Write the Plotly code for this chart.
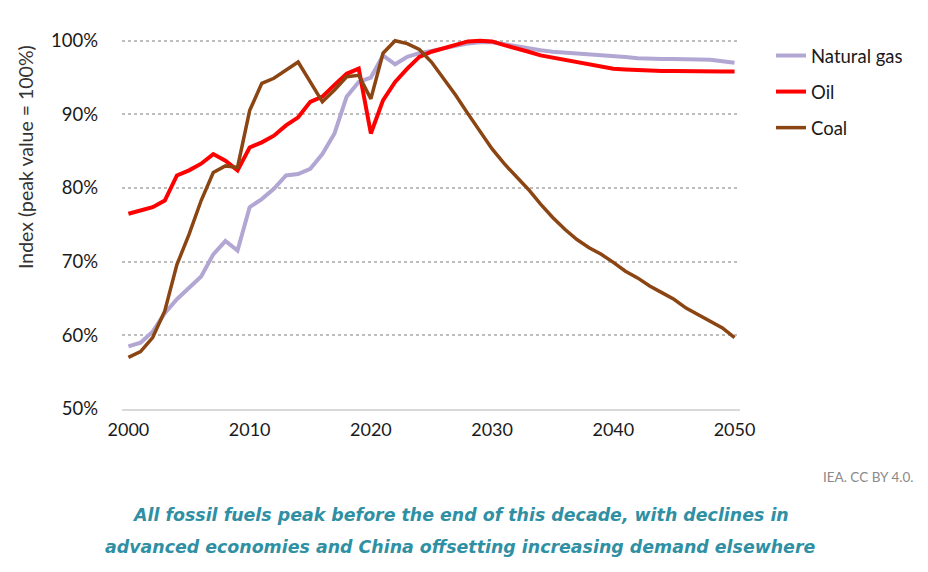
import plotly.graph_objects as go

years = list(range(2000, 2051))

natural_gas = [58.5, 59.0, 60.5, 63.0, 64.9, 66.5, 68.0, 71.0, 72.8, 71.5,
               77.4, 78.5, 79.9, 81.7, 81.9, 82.6, 84.6, 87.4, 92.4, 94.4,
               95.0, 98.0, 96.8, 97.8, 98.3, 98.6, 99.0, 99.3, 99.6, 99.8,
               99.8, 99.5, 99.2, 98.9, 98.7, 98.5, 98.4, 98.2, 98.1, 98.0,
               97.9, 97.8, 97.6, 97.5, 97.5, 97.5, 97.5, 97.5, 97.4, 97.2, 97.0]

oil = [76.5, 77.0, 77.4, 78.3, 81.7, 82.4, 83.3, 84.6, 83.7, 82.4,
       85.5, 86.2, 87.1, 88.5, 89.6, 91.7, 92.4, 94.0, 95.5, 96.2,
       87.4, 91.9, 94.4, 96.2, 97.8, 98.5, 99.0, 99.4, 99.9, 100.0,
       99.9, 99.4, 99.0, 98.5, 98.0, 97.7, 97.4, 97.0, 96.7, 96.5,
       96.2, 96.1, 96.0, 95.95, 95.9, 95.9, 95.85, 95.85, 95.8, 95.8, 95.8]

coal = [57.0, 57.8, 59.7, 63.3, 69.6, 73.7, 78.3, 82.1, 83.0, 82.8,
        90.5, 94.2, 94.9, 96.0, 97.1, 94.4, 91.7, 93.3, 95.1, 95.3,
        92.1, 98.3, 100.0, 99.6, 98.8, 97.1, 94.9, 92.6, 90.1, 87.8,
        85.3, 83.3, 81.5, 79.8, 77.8, 76.0, 74.4, 73.0, 71.9, 71.0,
        69.9, 68.7, 67.8, 66.7, 65.8, 64.9, 63.7, 62.8, 61.9, 61.0, 59.7]

y_ticks = [50, 60, 70, 80, 90, 100]
y_tick_labels = ["50%", "60%", "70%", "80%", "90%", "100%"]
x_ticks = [2000, 2010, 2020, 2030, 2040, 2050]

series = [
    ("Natural gas", natural_gas, "#b2a6d3", 4),
    ("Oil", oil, "#ff0000", 4),
    ("Coal", coal, "#8b4513", 3.5),
]

fig = go.Figure()
for name, vals, color, w in series:
    fig.add_trace(go.Scatter(x=years, y=vals, mode="lines", name=name,
                             legendgroup=name,
                             line=dict(color=color, width=w)))

font_family = "Lato, Liberation Sans, sans-serif"
L, T, R, B = 114, 29, 188, 163
W, H = 920, 564
pw, ph = W - L - R, H - T - B


def px(xs):
    return (xs - 8 - L) / pw


def py(ys):
    return (H - B - (ys - 8)) / ph


fig.update_layout(
    width=W, height=H,
    paper_bgcolor="white", plot_bgcolor="white",
    margin=dict(l=L, r=R, t=T, b=B),
    font=dict(family=font_family, size=17, color="#222222"),
    showlegend=True,
    legend=dict(x=px(771), y=1.0, xanchor="left", yanchor="top",
                font=dict(size=18.5, color="#1a1a1a"),
                traceorder="grouped", tracegroupgap=9,
                bgcolor="rgba(0,0,0,0)"),
    xaxis=dict(range=[1999.47, 2050.45], tickmode="array", tickvals=x_ticks,
               showgrid=False, zeroline=False, automargin=False,
               showline=True, linecolor="#d9d9d9", linewidth=2,
               ticks="", ticklabelstandoff=3,
               tickfont=dict(size=18, color="#1a1a1a")),
    yaxis=dict(range=[50, 100.5], tickmode="array", tickvals=y_ticks,
               ticktext=y_tick_labels, automargin=False,
               showgrid=True, gridcolor="#bdbdbd",
               gridwidth=1.5, griddash="dot", zeroline=False,
               showline=False, ticks="", ticklabelstandoff=23,
               tickfont=dict(size=18.5, color="#1a1a1a")),
)

fig.add_annotation(text="Index (peak value = 100%)", xref="paper", yref="paper",
                   x=px(25), y=py(157), xanchor="center", yanchor="middle",
                   textangle=-90, showarrow=False,
                   font=dict(size=19.5, color="#333333", family=font_family))

fig.add_annotation(text="IEA. CC BY 4.0.", xref="paper", yref="paper",
                   x=px(915), y=py(477), xanchor="right",
                   yanchor="middle", showarrow=False,
                   font=dict(size=13.5, color="#8a8a8a", family=font_family))

caption_lines = [
    ("All fossil fuels peak before the end of this decade, with declines in", 515),
    ("advanced economies and China offsetting increasing demand elsewhere", 547),
]
for text, ys in caption_lines:
    fig.add_annotation(
        text=text, xref="paper", yref="paper", x=px(460), y=py(ys),
        xanchor="center", yanchor="middle", showarrow=False,
        font=dict(size=17.4, color="#2f8fa3", family="DejaVu Sans",
                  style="italic", weight="bold"),
    )

fig.write_html("out.html")
